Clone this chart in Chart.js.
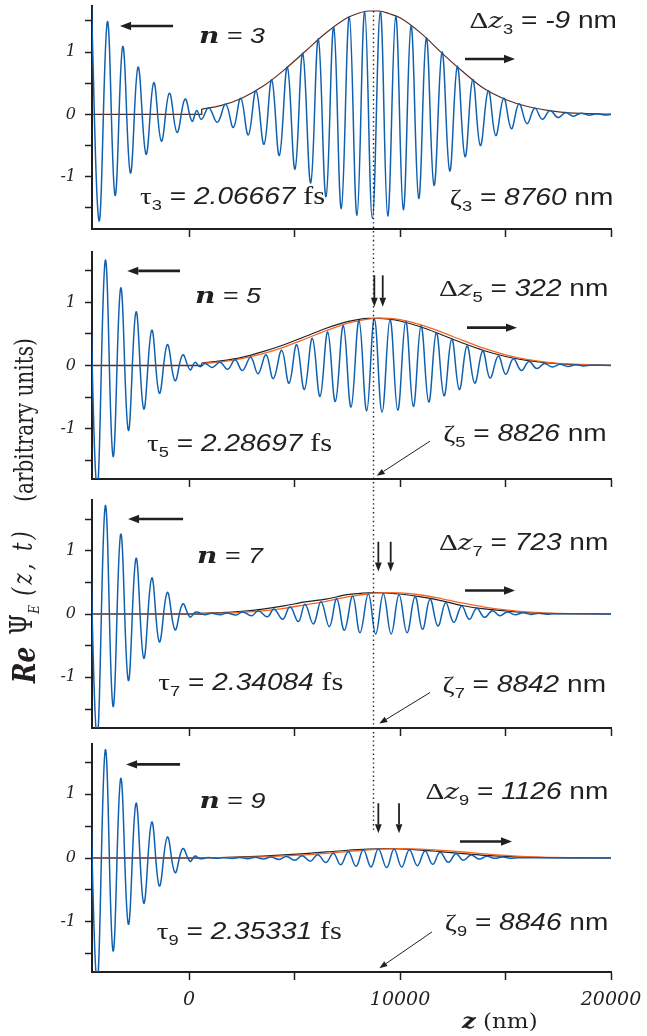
<!DOCTYPE html>
<html>
<head>
<meta charset="utf-8">
<script src="https://cdn.jsdelivr.net/npm/chart.js@4.4.0/dist/chart.umd.min.js"></script>
<style>
  html, body { margin: 0; padding: 0; background: #fff; }
  #wrap { position: relative; width: 647px; height: 1036px; overflow: hidden; }
  canvas { position: absolute; left: 0; }
  .rot { position: absolute; left: 24px; width: 0; height: 0; transform-origin: 0 0;
         transform: scaleX(1.3) rotate(-90deg); color: #231f20; font-family: "DejaVu Serif", serif; }
  .rot > span { position: absolute; left: 0; top: 0; white-space: nowrap; line-height: 1;
                transform: translate(-50%, -50%); }
</style>
</head>
<body>
<div id="wrap">
  <canvas id="p3" width="647" height="240" style="top:0"></canvas>
  <canvas id="p5" width="647" height="250" style="top:240px"></canvas>
  <canvas id="p7" width="647" height="246" style="top:490px"></canvas>
  <canvas id="p9" width="647" height="300" style="top:736px"></canvas>
  <div class="rot" style="top:420px"><span style="font-size:20px">(arbitrary units)</span></div>
  <div class="rot" style="top:562px"><span style="font-size:21px;font-style:italic;letter-spacing:3px">(z, t)</span></div>
  <div class="rot" style="top:620px"><span style="font-size:24px">&Psi;<sub style="font-size:12px;font-style:italic">E</sub></span></div>
  <div class="rot" style="top:665px"><span style="font-size:25px;font-weight:bold;font-style:italic">Re</span></div>
</div>
<script>
// ── Data ────────────────────────────────────────────────

const X_MIN = -4600;
const X_MAX = 20000;
const X_TICKS = [0, 5000, 10000, 15000, 20000];
const Y_TICKS = [-1.5, -1, -0.5, 0, 0.5, 1, 1.5];
const ENV_START = 600;   // where the envelope curves begin (nm)
const DOT_Z = 8740;      // dotted reference line (nm)

const N_LABELS = ['3', '5', '7', '9'];
const TAU_VALUES = ['2.06667', '2.28697', '2.34084', '2.35331'];
const ZETA_VALUES = ['8760', '8826', '8842', '8846'];
const DZ_VALUES = ['-9', '322', '723', '1126'];

// wave extrema (z in nm, value)
const Z3 = [-4650, -4265, -3870, -3507, -3142, -2780, -2417, -2038, -1673, -1313, -934, -569, -190, 142, 365, 583,
  934, 1341, 1739, 2100, 2450, 2810, 3175, 3555, 3919, 4280, 4659, 5024, 5389, 5768, 6128, 6493, 6858, 7218, 7597,
  7962, 8327, 8688, 9066, 9417, 9796, 10156, 10521, 10886, 11246, 11611, 11991, 12355, 12716, 13081, 13445, 13806,
  14185, 14536, 14915, 15275, 15640, 16019, 16384, 16745, 17109, 17488, 17853, 18218, 18583, 18948, 19313, 19678, 20000];
const V3 = [2.0, -1.71, 1.49, -1.30, 1.09, -0.94, 0.76, -0.64, 0.51, -0.43, 0.34, -0.29, 0.245, -0.11, 0.064, -0.08,
  0.107, -0.128, 0.165, -0.21, 0.26, -0.33, 0.38, -0.48, 0.555, -0.66, 0.76, -0.88, 0.98, -1.10, 1.21, -1.32, 1.40, -1.51, 1.57,
  -1.62, 1.65, -1.67, 1.65, -1.63, 1.57, -1.53, 1.42, -1.35, 1.23, -1.14, 1.00, -0.91, 0.77, -0.68, 0.56, -0.50,
  0.38, -0.34, 0.26, -0.23, 0.17, -0.15, 0.10, -0.08, 0.064, -0.05, 0.03, -0.03, 0.02, -0.015, 0.01, -0.008, 0];

const Z5 = [-4750, -4360, -3967, -3602, -3237, -2877, -2512, -2147, -1768, -1408, -1028, -664, -299, 47, 284, 521,
  760, 1100, 1469, 1833, 2180, 2527, 2922, 3270, 3649, 3995, 4392, 4739, 5103, 5466, 5844, 6209, 6573, 6934, 7313,
  7678, 8057, 8422, 8782, 9147, 9526, 9891, 10270, 10630, 10995, 11360, 11720, 12085, 12450, 12810, 13175, 13540,
  13919, 14265, 14659, 15009, 15370, 15749, 16114, 16479, 16843, 17223, 17590, 17950, 18320, 18690, 19050, 20000];
const V5 = [2.2, -1.95, 1.67, -1.44, 1.23, -1.03, 0.85, -0.69, 0.56, -0.44, 0.33, -0.24, 0.17, -0.068, 0.05, -0.02,
  0.03, -0.03, 0.05, -0.06, 0.09, -0.08, 0.13, -0.13, 0.17, -0.21, 0.24, -0.28, 0.33, -0.38, 0.43, -0.49, 0.53, -0.57, 0.63,
  -0.66, 0.71, -0.72, 0.74, -0.74, 0.73, -0.71, 0.70, -0.65, 0.63, -0.58, 0.52, -0.48, 0.42, -0.38, 0.31, -0.28,
  0.23, -0.20, 0.15, -0.14, 0.106, -0.08, 0.063, -0.048, 0.03, -0.025, 0.02, -0.015, 0.01, -0.006, 0.004, 0];

const Z7 = [-4750, -4360, -3967, -3602, -3237, -2877, -2512, -2147, -1768, -1408, -1028, -664, -299, 47, 316, 743,
  1059, 1485, 1801, 2227, 2543, 2970, 3286, 3712, 4028, 4439, 4787, 5182, 5498, 5893, 6256, 6651, 7000, 7362, 7757,
  8104, 8498, 8847, 9209, 9580, 9953, 10330, 10711, 11065, 11422, 11795, 12166, 12545, 12924, 13280, 13635, 14005,
  14375, 14730, 15085, 15460, 15830, 16200, 16570, 16940, 17310, 20000];
const V7 = [2.1, -1.95, 1.71, -1.46, 1.26, -1.05, 0.88, -0.70, 0.57, -0.44, 0.34, -0.25, 0.16, -0.05, 0.03, -0.01,
  0.01, -0.012, 0.015, -0.016, 0.03, -0.026, 0.05, -0.045, 0.079, -0.084, 0.116, -0.12, 0.153, -0.158, 0.195, -0.2, 0.24, -0.255, 0.28,
  -0.295, 0.316, -0.316, 0.318, -0.316, 0.305, -0.295, 0.274, -0.242, 0.232, -0.189, 0.179, -0.132, 0.126, -0.084, 0.089, -0.053,
  0.053, -0.026, 0.032, -0.011, 0.018, -0.006, 0.01, -0.003, 0.005, 0];

const Z9 = [-4750, -4360, -3967, -3602, -3237, -2877, -2512, -2147, -1768, -1408, -1028, -664, -299, 47, 284, 521,
  900, 1300, 1660, 2050, 2400, 2790, 3140, 3530, 3880, 4270, 4620, 5010, 5360, 5750, 6100, 6493, 6839, 7188, 7550,
  7915, 8261, 8626, 8972, 9368, 9716, 10079, 10442, 10821, 11185, 11548, 11896, 12290, 12654, 13000, 13365, 13744,
  14108, 14470, 14850, 15210, 15578, 20000];
const V9 = [2.1, -1.95, 1.70, -1.46, 1.25, -1.04, 0.86, -0.71, 0.565, -0.44, 0.33, -0.23, 0.147, -0.052, 0.03, -0.01,
  0.006, -0.004, 0.004, -0.006, 0.006, -0.01, 0.01, -0.015, 0.016, -0.024, 0.025, -0.035, 0.036, -0.05, 0.05, -0.07, 0.075, -0.105, 0.10,
  -0.131, 0.131, -0.141, 0.141, -0.15, 0.141, -0.141, 0.131, -0.12, 0.11, -0.1, 0.089, -0.068, 0.068, -0.037, 0.047, -0.016,
  0.026, -0.005, 0.016, -0.002, 0.005, 0];

// envelopes, sampled along z
const Z_ENV = [600, 1500, 2500, 3500, 4500, 5500, 6500, 7500, 8000, 8500, 9000, 9500, 10000, 11000, 12000, 13000,
  14000, 15000, 16000, 17000, 18000, 20000];
const ENV3 = [0.085, 0.14, 0.26, 0.45, 0.71, 1.01, 1.31, 1.55, 1.62, 1.66, 1.66, 1.615, 1.55, 1.30, 0.98, 0.68,
  0.41, 0.24, 0.13, 0.065, 0.025, 0.003];
const ENV5_BLACK = [0.04, 0.073, 0.13, 0.22, 0.33, 0.46, 0.59, 0.695, 0.728, 0.746, 0.748, 0.735, 0.706, 0.611, 0.484, 0.352,
  0.234, 0.143, 0.080, 0.041, 0.019, 0.003];
const ENV5_ORANGE = [0.031, 0.059, 0.11, 0.187, 0.293, 0.42, 0.553, 0.667, 0.708, 0.736, 0.75, 0.746, 0.727, 0.646, 0.526, 0.394,
  0.27, 0.169, 0.097, 0.051, 0.025, 0.004];
const ENV7_BLACK = [0.012, 0.022, 0.043, 0.078, 0.128, 0.19, 0.235, 0.305, 0.323, 0.333, 0.336, 0.33, 0.316, 0.27, 0.208, 0.13,
  0.08, 0.05, 0.022, 0.009, 0.004, 0.001];
const ENV7_ORANGE = [0.008, 0.014, 0.027, 0.05, 0.09, 0.145, 0.2, 0.27, 0.295, 0.32, 0.333, 0.336, 0.333, 0.30, 0.24, 0.17,
  0.11, 0.065, 0.032, 0.015, 0.006, 0.001];
const ENV9_BLACK = [0.004, 0.008, 0.017, 0.03, 0.048, 0.07, 0.095, 0.122, 0.132, 0.14, 0.145, 0.146, 0.142, 0.125, 0.097, 0.068,
  0.042, 0.024, 0.012, 0.005, 0.002, 0];
const ENV9_ORANGE = [0.002, 0.005, 0.01, 0.018, 0.032, 0.05, 0.074, 0.1, 0.114, 0.127, 0.138, 0.144, 0.147, 0.14, 0.12, 0.094,
  0.065, 0.04, 0.022, 0.011, 0.005, 0.001];

// ── Styles ──────────────────────────────────────────────

const INK = '#231f20';
const BLUE = '#1060b0';
const ORANGE = '#f26522';
const BROWN = '#5a2d1e';
const SX = 1.22; // the figure's lettering is horizontally stretched

const F_SYM = '24px "Liberation Serif", serif';
const F_SUB = '15px "Liberation Sans", sans-serif';
const F_TXT = '23px "Liberation Sans", sans-serif';
const F_NUM = 'italic 23px "Liberation Sans", sans-serif';
const F_FS = '25px "Liberation Serif", serif';
const F_ZIT = 'italic 23px "DejaVu Serif", serif';
const F_N = 'bold italic 23px "DejaVu Serif", serif';

// ── Helpers ─────────────────────────────────────────────

const pts = (xs, ys) => xs.slice(0, Math.min(xs.length, ys.length)).map((x, i) => ({ x, y: ys[i] }));

const tauParts = (n, v) => [
  { text: 'τ', font: F_SYM }, { text: n, font: F_SUB, dy: 6 }, { text: ' = ', font: F_TXT },
  { text: v, font: F_NUM }, { text: ' fs', font: F_FS }];
const zetaParts = (n, v) => [
  { text: 'ζ', font: F_SYM }, { text: n, font: F_SUB, dy: 6 }, { text: ' = ', font: F_TXT },
  { text: v, font: F_NUM }, { text: ' nm', font: F_TXT }];
const dzParts = (n, v) => [
  { text: 'Δ', font: F_SYM }, { text: 'z', font: F_ZIT }, { text: n, font: F_SUB, dy: 6 },
  { text: ' = ', font: F_TXT }, { text: v, font: F_NUM }, { text: ' nm', font: F_TXT }];
const nParts = n => [
  { text: 'n', font: F_N }, { text: ' = ', font: '22px "Liberation Sans", sans-serif' },
  { text: n, font: 'italic 22px "Liberation Sans", sans-serif' }];

function drawRich(ctx, x, y, parts, align, sx) {
  let w = 0;
  parts.forEach(p => { ctx.font = p.font; w += ctx.measureText(p.text).width; });
  ctx.save();
  ctx.translate(align === 'right' ? x - w * sx : x, y);
  ctx.scale(sx, 1);
  ctx.fillStyle = INK;
  ctx.textBaseline = 'alphabetic';
  ctx.textAlign = 'left';
  let cx = 0;
  parts.forEach(p => {
    ctx.font = p.font;
    ctx.fillText(p.text, cx, p.dy || 0);
    cx += ctx.measureText(p.text).width;
  });
  ctx.restore();
}

function drawArrow(ctx, x1, y1, x2, y2, lw, head, hw) {
  const a = Math.atan2(y2 - y1, x2 - x1);
  const bx = x2 - head * Math.cos(a), by = y2 - head * Math.sin(a);
  ctx.strokeStyle = INK;
  ctx.fillStyle = INK;
  ctx.lineWidth = lw;
  ctx.beginPath();
  ctx.moveTo(x1, y1);
  ctx.lineTo(bx, by);
  ctx.stroke();
  ctx.beginPath();
  ctx.moveTo(x2, y2);
  ctx.lineTo(bx + hw * Math.sin(a), by - hw * Math.cos(a));
  ctx.lineTo(bx - hw * Math.sin(a), by + hw * Math.cos(a));
  ctx.closePath();
  ctx.fill();
}

// ── Decorations plugin (labels, arrows, dotted line) ────

const decoPlugin = {
  id: 'deco',
  afterDatasetsDraw(chart, args, o) {
    const { ctx } = chart;
    const X = v => chart.scales.x.getPixelForValue(v);
    const Y = v => chart.scales.y.getPixelForValue(v);
    ctx.save();

    // dotted vertical line
    ctx.strokeStyle = INK;
    ctx.lineWidth = 1.4;
    ctx.setLineDash([1.4, 3]);
    ctx.beginPath();
    const dx = Math.round(X(DOT_Z)) + 0.5;
    ctx.moveTo(dx, o.dotFrom == null ? 0 : Y(o.dotFrom));
    ctx.lineTo(dx, o.dotTo == null ? chart.height : Y(o.dotTo));
    ctx.stroke();
    ctx.setLineDash([]);

    // thick travel arrows
    drawArrow(ctx, X(o.leftArrow[0]), Y(o.leftArrow[2]), X(o.leftArrow[1]), Y(o.leftArrow[2]), 2.6, 11, 4.2);
    drawArrow(ctx, X(o.rightArrow[0]), Y(o.rightArrow[2]), X(o.rightArrow[1]), Y(o.rightArrow[2]), 2.6, 11, 4.2);

    // peak markers
    (o.down || []).forEach(z => drawArrow(ctx, X(z), Y(o.downFrom), X(z), Y(o.downTo), 1.8, 9, 3.4));

    // pointer to the axis
    if (o.diag) drawArrow(ctx, X(o.diag[0]), Y(o.diag[1]), X(o.diag[2]), Y(o.diag[3]), 1, 8, 3);

    // labels
    drawRich(ctx, X(o.nPos[0]), Y(o.nPos[1]), nParts(o.n), 'left', 1.22);
    drawRich(ctx, X(o.dzPos[0]), Y(o.dzPos[1]), dzParts(o.n, o.dz), 'right', SX);
    drawRich(ctx, X(o.tauPos[0]), Y(o.tauPos[1]), tauParts(o.n, o.tau), 'left', SX);
    drawRich(ctx, X(o.zetaPos[0]), Y(o.zetaPos[1]), zetaParts(o.n, o.zeta), 'right', SX);

    if (o.axisTitle) {
      drawRich(ctx, X(o.axisTitle[0]), Y(o.axisTitle[1]), [
        { text: 'z', font: 'bold italic 21px "DejaVu Serif", serif' },
        { text: ' (nm)', font: '20px "DejaVu Serif", serif' }], 'left', 1.15);
    }
    ctx.restore();
  }
};

// ── Panels ──────────────────────────────────────────────

const PANELS = [
  { id: 'p3', i: 0, Z: Z3, V: V3, black: ENV3, orange: null, yMin: -1.84, yMax: 1.74, pt: 6, xh: 11, last: false,
    deco: { dotFrom: 1.66, dotTo: null, nPos: [474, 1.14], dzPos: [20284, 1.39], tauPos: [-2322, -1.44],
      zetaPos: [20109, -1.46], leftArrow: [-758, -3270, 1.42], rightArrow: [13081, 15450, 0.89] } },
  { id: 'p5', i: 1, Z: Z5, V: V5, black: ENV5_BLACK, orange: ENV5_ORANGE, yMin: -1.8, yMax: 1.8, pt: 12, xh: 11, last: false,
    deco: { dotFrom: null, dotTo: null, nPos: [284, 0.99], dzPos: [19872, 1.11], tauPos: [-1990, -1.36],
      zetaPos: [19796, -1.20], leftArrow: [-427, -2928, 1.50], rightArrow: [13175, 15545, 0.60],
      down: [8782, 9180], downFrom: 1.43, downTo: 0.93, diag: [11422, -1.20, 8896, -1.75] } },
  { id: 'p7', i: 2, Z: Z7, V: V7, black: ENV7_BLACK, orange: ENV7_ORANGE, yMin: -1.8, yMax: 1.8, pt: 10, xh: 8, last: false,
    deco: { dotFrom: null, dotTo: null, nPos: [379, 0.81], dzPos: [19872, 1.01], tauPos: [-1455, -1.20],
      zetaPos: [19763, -1.23], leftArrow: [-284, -2891, 1.50], rightArrow: [13081, 15450, 0.37],
      down: [8972, 9558], downFrom: 1.14, downTo: 0.67, diag: [11422, -1.24, 9019, -1.73] } },
  { id: 'p9', i: 3, Z: Z9, V: V9, black: ENV9_BLACK, orange: ENV9_ORANGE, yMin: -1.79, yMax: 1.79, pt: 8, xh: 64, last: true,
    deco: { dotFrom: null, dotTo: 0.43, nPos: [490, 0.78], dzPos: [19872, 0.93], tauPos: [-1531, -1.27],
      zetaPos: [19872, -1.13], leftArrow: [-427, -2986, 1.47], rightArrow: [12844, 15308, 0.26],
      down: [8972, 9953], downFrom: 0.86, downTo: 0.39, diag: [11517, -1.16, 9019, -1.73],
      axisTitle: [12938, -2.67] } }
];

// ── Chart factory ───────────────────────────────────────

function createPanel(p) {
  const datasets = [{
    data: pts(p.Z, p.V), borderColor: BLUE, borderWidth: 1.5, tension: 0.4, pointRadius: 0
  }];
  if (p.orange) {
    datasets.push({ data: pts(Z_ENV, p.orange), borderColor: ORANGE, borderWidth: 1.3,
      cubicInterpolationMode: 'monotone', pointRadius: 0 });
  }
  datasets.push({ data: pts(Z_ENV, p.black), borderColor: p.orange ? INK : BROWN, borderWidth: 1.2,
    cubicInterpolationMode: 'monotone', pointRadius: 0 });
  datasets.push({ data: [{ x: X_MIN, y: 0 }, { x: ENV_START, y: 0 }, { x: ENV_START, y: p.black[0] }],
    borderColor: BROWN, borderWidth: 1.3, tension: 0, pointRadius: 0 });

  const deco = Object.assign({ n: N_LABELS[p.i], tau: TAU_VALUES[p.i], zeta: ZETA_VALUES[p.i], dz: DZ_VALUES[p.i] }, p.deco);

  return new Chart(document.getElementById(p.id), {
    type: 'line',
    data: { datasets },
    plugins: [decoPlugin],
    options: {
      responsive: false,
      animation: false,
      devicePixelRatio: 1,
      layout: { padding: { top: p.pt, right: 36, bottom: 0, left: 0 } },
      plugins: { legend: { display: false }, tooltip: { enabled: false }, deco },
      scales: {
        x: {
          type: 'linear', min: X_MIN, max: X_MAX,
          afterBuildTicks: s => { s.ticks = X_TICKS.map(value => ({ value })); },
          afterFit: s => { s.height = p.xh; s.paddingLeft = 0; s.paddingRight = 0; },
          border: { color: INK, width: 2 },
          grid: { drawOnChartArea: false, drawTicks: true, tickLength: 8, tickColor: INK, tickWidth: 1.5 },
          ticks: {
            display: p.last, autoSkip: false, maxRotation: 0,
            padding: 9, color: INK, font: { family: '"DejaVu Serif", serif', style: 'italic', size: 19 },
            callback: v => (v % 10000 === 0 ? String(v) : '')
          }
        },
        y: {
          min: p.yMin, max: p.yMax,
          afterBuildTicks: s => { s.ticks = Y_TICKS.map(value => ({ value })); },
          afterFit: s => { s.width = 92; s.paddingTop = 0; s.paddingBottom = 0; },
          border: { color: INK, width: 2 },
          grid: { drawOnChartArea: false, drawTicks: true, tickLength: 7, tickColor: INK, tickWidth: 1.5 },
          ticks: {
            padding: 9, color: INK,
            font: { family: '"DejaVu Serif", serif', style: 'italic', size: 16 },
            callback: v => (Number.isInteger(v) ? String(v) : '')
          }
        }
      }
    }
  });
}

PANELS.forEach(createPanel);
</script>
</body>
</html>
